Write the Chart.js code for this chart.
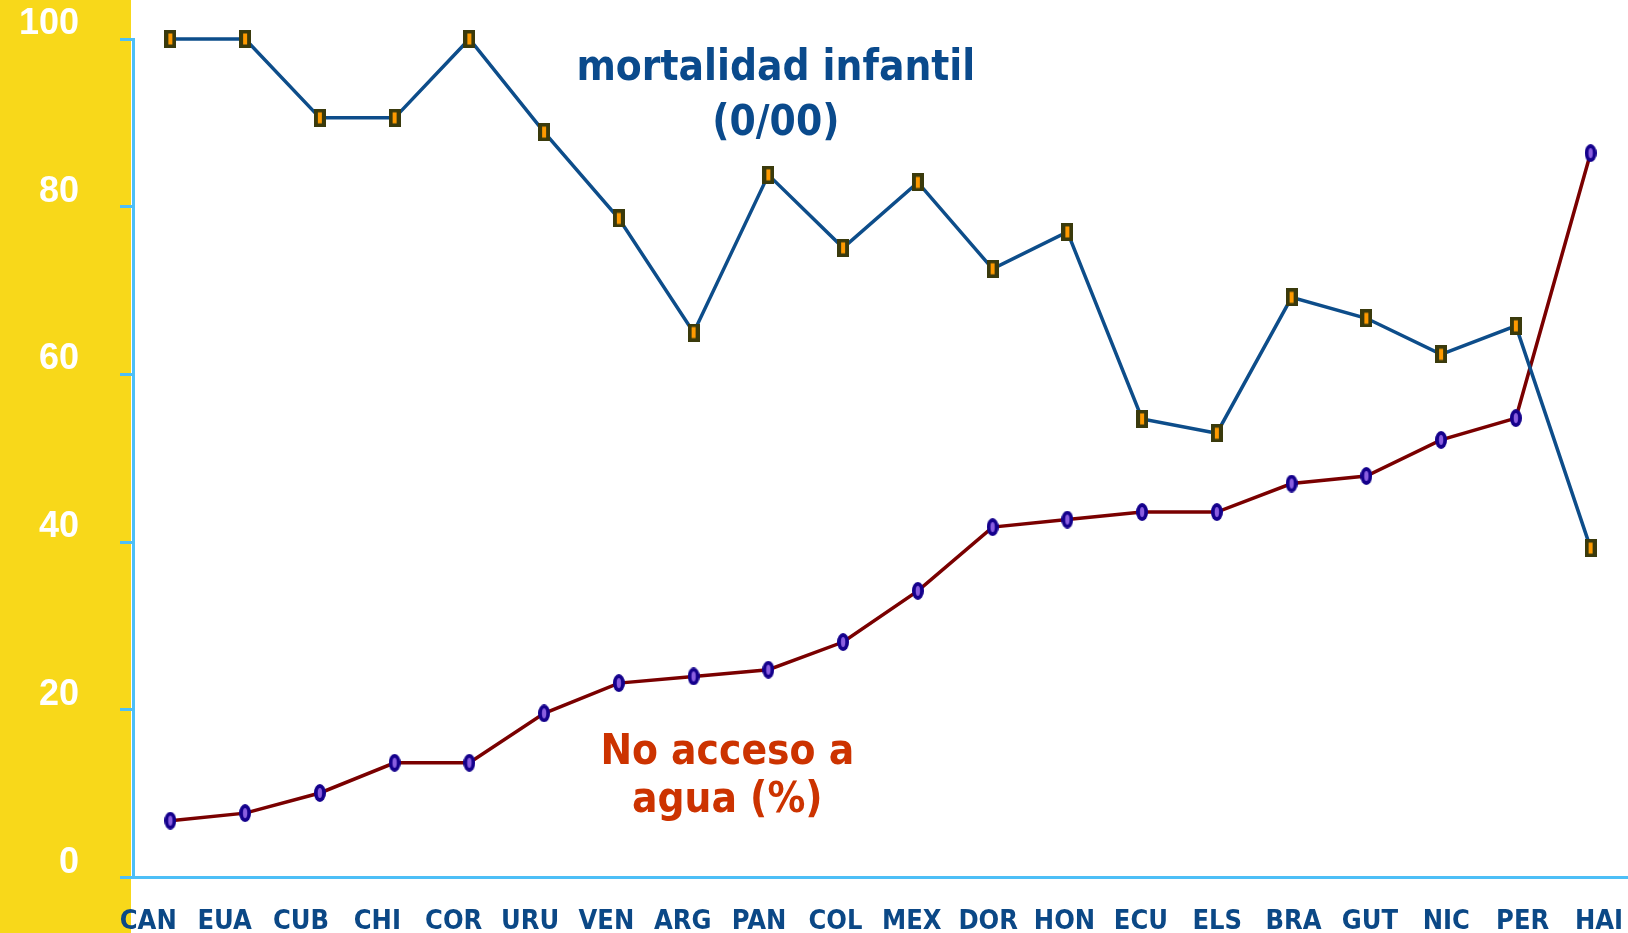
<!DOCTYPE html>
<html>
<head>
<meta charset="utf-8">
<script src="https://cdn.jsdelivr.net/npm/chart.js@4/dist/chart.umd.min.js"></script>
<style>
  html, body { margin: 0; padding: 0; background: #ffffff; overflow: hidden; }
  canvas { display: block; }
</style>
</head>
<body>
<canvas id="graph1" width="1628" height="933"></canvas>
<script>
// data
var categories = ["CAN", "EUA", "CUB", "CHI", "COR", "URU", "VEN", "ARG", "PAN", "COL",
                  "MEX", "DOR", "HON", "ECU", "ELS", "BRA", "GUT", "NIC", "PER", "HAI"];
var mortalidad = [100, 100, 90.6, 90.6, 100, 88.9, 78.6, 65.0, 83.8, 75.1,
                  82.9, 72.6, 77.0, 54.7, 53.0, 69.2, 66.7, 62.4, 65.8, 39.3];
var noAgua = [6.8, 7.7, 10.1, 13.7, 13.7, 19.6, 23.2, 24.0, 24.8, 28.1,
              34.2, 41.8, 42.7, 43.6, 43.6, 47.0, 47.9, 52.2, 54.8, 86.4];
var yTicks = [0, 20, 40, 60, 80, 100];

var FONT = '"DejaVu Sans Condensed", "DejaVu Sans", sans-serif';
var AXIS = "#4dbff7";
var YELLOW = "#f8d81a";

// marker images
function rectMarker() {
    var c = document.createElement("canvas");
    c.width = 12; c.height = 18;
    var g = c.getContext("2d");
    g.fillStyle = "#3a3a0c";
    g.fillRect(0, 0, 12, 18);
    g.fillStyle = "#ff9a00";
    g.fillRect(4, 3.5, 4, 11);
    return c;
}
function ovalMarker() {
    var c = document.createElement("canvas");
    c.width = 12; c.height = 18;
    var g = c.getContext("2d");
    g.fillStyle = "#14008c";
    g.beginPath(); g.ellipse(6, 9, 6, 9, 0, 0, Math.PI * 2); g.fill();
    g.fillStyle = "#8a5ee0";
    g.beginPath(); g.ellipse(6, 9, 2.2, 5, 0, 0, Math.PI * 2); g.fill();
    return c;
}

function noPad(s) {
    s.paddingTop = 0; s.paddingBottom = 0;
    s.paddingLeft = 0; s.paddingRight = 0;
}

var backdrop = {
    id: "backdrop",
    beforeDraw: function (chart) {
        var ctx = chart.ctx;
        ctx.save();
        ctx.fillStyle = YELLOW;
        ctx.fillRect(0, 0, chart.chartArea.left - 2, chart.height);
        ctx.restore();
    }
};

var notes = {
    id: "notes",
    afterDraw: function (chart) {
        var ctx = chart.ctx, x = chart.scales.x, y = chart.scales.y;
        ctx.save();
        ctx.textAlign = "center";
        ctx.textBaseline = "alphabetic";
        ctx.fillStyle = "#0a4a8c";
        ctx.font = "bold 42px " + FONT;
        ctx.fillText("mortalidad infantil", x.getPixelForValue(8.1), y.getPixelForValue(95.1));
        ctx.fillText("(0/00)", x.getPixelForValue(8.1), y.getPixelForValue(88.6));
        ctx.fillStyle = "#cc3300";
        ctx.font = "bold 42px " + FONT;
        ctx.fillText("No acceso a", x.getPixelForValue(7.45), y.getPixelForValue(13.5));
        ctx.fillText("agua (%)", x.getPixelForValue(7.45), y.getPixelForValue(7.8));
        ctx.restore();
    }
};

new Chart(document.getElementById("graph1"), {
    type: "line",
    data: {
        labels: categories,
        datasets: [
            {
                label: "mortalidad infantil (0/00)",
                data: mortalidad,
                borderColor: "#0d4d8a",
                borderWidth: 3.5,
                pointStyle: rectMarker(),
                tension: 0,
                clip: false
            },
            {
                label: "No acceso a agua (%)",
                data: noAgua,
                borderColor: "#7a0000",
                borderWidth: 3.5,
                pointStyle: ovalMarker(),
                tension: 0,
                clip: false
            }
        ]
    },
    options: {
        responsive: false,
        animation: false,
        layout: { autoPadding: false, padding: { top: 39, right: 0, left: 0, bottom: 0 } },
        plugins: {
            legend: { display: false },
            title: { display: false },
            tooltip: { enabled: false }
        },
        scales: {
            x: {
                type: "category",
                offset: true,
                grid: { display: false, drawTicks: false },
                border: { display: true, color: AXIS, width: 3 },
                ticks: { display: false },
                afterFit: function (s) { s.height = 4; noPad(s); }
            },
            x2: {
                type: "linear",
                position: "bottom",
                min: -0.2,
                max: 19.38,
                grid: { display: false, drawTicks: false },
                border: { display: false },
                ticks: {
                    autoSkip: false,
                    maxRotation: 0,
                    padding: 24,
                    color: "#0b4886",
                    font: { family: FONT, size: 27, weight: "bold" },
                    callback: function (v) { return categories[v]; }
                },
                afterBuildTicks: function (s) {
                    s.ticks = categories.map(function (c, i) { return { value: i }; });
                },
                afterFit: function (s) { s.height = 51.3; noPad(s); }
            },
            y: {
                min: 0,
                max: 100,
                grid: { drawOnChartArea: false, tickLength: 13, tickColor: AXIS, tickWidth: 3 },
                border: { display: true, color: AXIS, width: 3 },
                ticks: {
                    padding: 41,
                    labelOffset: -15,
                    color: "#ffffff",
                    font: { family: '"Liberation Sans", Arial, sans-serif', size: 36, weight: "bold" }
                },
                afterBuildTicks: function (s) {
                    s.ticks = yTicks.map(function (v) { return { value: v }; });
                },
                afterFit: function (s) { s.width = 133; noPad(s); }
            }
        }
    },
    plugins: [backdrop, notes]
});
</script>
</body>
</html>
